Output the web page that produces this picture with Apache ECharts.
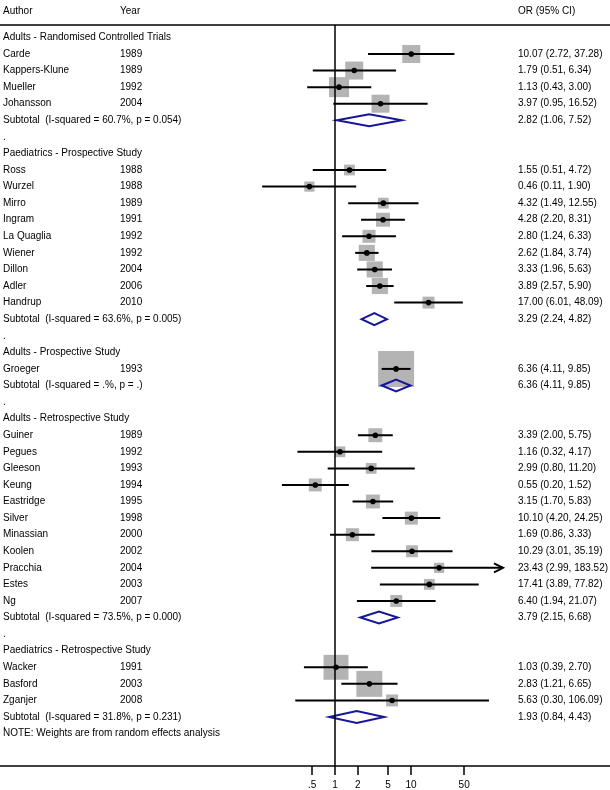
<!DOCTYPE html>
<html>
<head>
<meta charset="utf-8">
<script src="https://cdn.jsdelivr.net/npm/echarts@6/dist/echarts.min.js"></script>
<style>
html,body{margin:0;padding:0;background:#fff;}
#chart{width:610px;height:790px;}
</style>
</head>
<body>
<div id="chart"></div>
<script>
/* 
	forest plot data, one entry per row of the plot
 */
var rowLabels = [
	'Adults - Randomised Controlled Trials',
	'Carde','Kappers-Klune','Mueller','Johansson',
	'Subtotal  (I-squared = 60.7%, p = 0.054)',
	'.',
	'Paediatrics - Prospective Study',
	'Ross','Wurzel','Mirro','Ingram','La Quaglia','Wiener','Dillon','Adler','Handrup',
	'Subtotal  (I-squared = 63.6%, p = 0.005)',
	'.',
	'Adults - Prospective Study',
	'Groeger',
	'Subtotal  (I-squared = .%, p = .)',
	'.',
	'Adults - Retrospective Study',
	'Guiner','Pegues','Gleeson','Keung','Eastridge','Silver','Minassian','Koolen','Pracchia','Estes','Ng',
	'Subtotal  (I-squared = 73.5%, p = 0.000)',
	'.',
	'Paediatrics - Retrospective Study',
	'Wacker','Basford','Zganjer',
	'Subtotal  (I-squared = 31.8%, p = 0.231)',
	'NOTE: Weights are from random effects analysis'
];
// h = group header, s = study, t = subtotal, x = plain text, n = note
var rowKind = [
	'h','s','s','s','s','t','x',
	'h','s','s','s','s','s','s','s','s','s','t','x',
	'h','s','t','x',
	'h','s','s','s','s','s','s','s','s','s','s','s','t','x',
	'h','s','s','s','t',
	'n'
];
var years = [
	'','1989','1989','1992','2004','','',
	'','1988','1988','1989','1991','1992','1992','2004','2006','2010','','',
	'','1993','','',
	'','1989','1992','1993','1994','1995','1998','2000','2002','2004','2003','2007','','',
	'','1991','2003','2008','',
	''
];
var orValues = [
	null,10.07,1.79,1.13,3.97,2.82,null,
	null,1.55,0.46,4.32,4.28,2.80,2.62,3.33,3.89,17.00,3.29,null,
	null,6.36,6.36,null,
	null,3.39,1.16,2.99,0.55,3.15,10.10,1.69,10.29,23.43,17.41,6.40,3.79,null,
	null,1.03,2.83,5.63,1.93,
	null
];
var ciLow = [
	null,2.72,0.51,0.43,0.95,1.06,null,
	null,0.51,0.11,1.49,2.20,1.24,1.84,1.96,2.57,6.01,2.24,null,
	null,4.11,4.11,null,
	null,2.00,0.32,0.80,0.20,1.70,4.20,0.86,3.01,2.99,3.89,1.94,2.15,null,
	null,0.39,1.21,0.30,0.84,
	null
];
var ciHigh = [
	null,37.28,6.34,3.00,16.52,7.52,null,
	null,4.72,1.90,12.55,8.31,6.33,3.74,5.63,5.90,48.09,4.82,null,
	null,9.85,9.85,null,
	null,5.75,4.17,11.20,1.52,5.83,24.25,3.33,35.19,183.52,77.82,21.07,6.68,null,
	null,2.70,6.65,106.09,4.43,
	null
];
// weights (%)
var weights = [
	null,25,25,31,25,null,null,
	null,9,8,9,15,13,20,20,20,11,null,null,
	null,100,null,null,
	null,15,9,9,13,15,13,13,11,8,9,11,null,null,
	null,48,52,11,null,
	null
];

// x axis ticks
var xTicks = [0.5, 1, 2, 5, 10, 50];
var xTickLabels = ['.5', '1', '2', '5', '10', '50'];
var refValue = 1;

// 坐标范围 (log10 空间)
var xMin = -4.408, xMax = 3.618;
var clipLog = 2.21;
var boxScale = 3.6;
var FONT = '10px "Liberation Sans", Arial, sans-serif';

/* 构建系列数据 */
var studyData = [], diamondData = [], textData = [];
for (var i = 0; i < rowLabels.length; i++) {
	textData.push([0, i]);
	if (rowKind[i] == 's') {
		studyData.push([i, orValues[i], ciLow[i], ciHigh[i], weights[i]]);
	} else if (rowKind[i] == 't') {
		diamondData.push([i, orValues[i], ciLow[i], ciHigh[i]]);
	}
}

function lg(v) { return Math.log10(v); }

function renderStudy(params, api) {
	var row = api.value(0);
	var pc = api.coord([lg(api.value(1)), row]);
	var pl = api.coord([lg(api.value(2)), row]);
	var hiLog = lg(api.value(3));
	var ph = api.coord([Math.min(hiLog, clipLog), row]);
	var side = boxScale * Math.sqrt(api.value(4));
	var children = [
		{type: 'rect', shape: {x: pc[0] - side / 2, y: pc[1] - side / 2, width: side, height: side}, style: {fill: '#b4b4b4'}},
		{type: 'line', shape: {x1: pl[0], y1: pl[1], x2: ph[0], y2: ph[1]}, style: {stroke: '#000', lineWidth: 2}},
		{type: 'circle', shape: {cx: pc[0], cy: pc[1], r: 2.8}, style: {fill: '#000'}}
	];
	// 超出范围则画箭头
	if (hiLog > clipLog) {
		children.push({type: 'polyline', shape: {points: [[ph[0] - 9, ph[1] - 4.5], [ph[0], ph[1]], [ph[0] - 9, ph[1] + 4.5]]},
			style: {stroke: '#000', fill: null, lineWidth: 2}});
	}
	return {type: 'group', children: children};
}

function renderDiamond(params, api) {
	var row = api.value(0);
	var pc = api.coord([lg(api.value(1)), row]);
	var pl = api.coord([lg(api.value(2)), row]);
	var ph = api.coord([lg(api.value(3)), row]);
	return {
		type: 'polygon',
		shape: {points: [[pl[0], pc[1]], [pc[0], pc[1] - 6], [ph[0], pc[1]], [pc[0], pc[1] + 6]]},
		style: {stroke: '#16169a', fill: null, lineWidth: 2}
	};
}

function renderText(params, api) {
	var i = api.value(1);
	var y = api.coord([0, i])[1];
	var children = [
		{type: 'text', x: 3, y: y, style: {text: rowLabels[i], font: FONT, fill: '#000', verticalAlign: 'middle'}}
	];
	if (rowKind[i] == 'n') {
		// 残留的分隔点
		children.push({type: 'text', x: 3, y: y - 8, style: {text: '.', font: FONT, fill: '#000', verticalAlign: 'middle'}});
	}
	if (years[i]) {
		children.push({type: 'text', x: 120, y: y, style: {text: years[i], font: FONT, fill: '#000', verticalAlign: 'middle'}});
	}
	if (orValues[i] != null) {
		var s = orValues[i].toFixed(2) + ' (' + ciLow[i].toFixed(2) + ', ' + ciHigh[i].toFixed(2) + ')';
		children.push({type: 'text', x: 518, y: y, style: {text: s, font: FONT, fill: '#000', verticalAlign: 'middle'}});
	}
	return {type: 'group', children: children};
}

var myChart = echarts.init(document.getElementById('chart'));
var option = {
	animation: false,
	grid: {left: 0, right: 0, top: 25, bottom: 24},
	graphic: [
		{type: 'text', left: 3, top: 6, style: {text: 'Author', font: FONT, fill: '#000'}},
		{type: 'text', left: 120, top: 6, style: {text: 'Year', font: FONT, fill: '#000'}},
		{type: 'text', left: 518, top: 6, style: {text: 'OR (95% CI)', font: FONT, fill: '#000'}}
	],
	xAxis: [{
		type: 'value', min: xMin, max: xMax, position: 'bottom',
		axisLine: {show: true, onZero: false, lineStyle: {color: '#000', width: 1.5}},
		axisTick: {show: true, length: 9, lineStyle: {color: '#000', width: 1.5}, customValues: xTicks.map(lg)},
		axisLabel: {
			show: true, margin: 14, color: '#000', fontSize: 10, fontFamily: '"Liberation Sans", Arial, sans-serif',
			customValues: xTicks.map(lg),
			formatter: function (v) {
				for (var k = 0; k < xTicks.length; k++) {
					if (Math.abs(lg(xTicks[k]) - v) < 1e-6) return xTickLabels[k];
				}
				return '';
			}
		},
		splitLine: {show: false}
	}, {
		type: 'value', position: 'top', min: xMin, max: xMax,
		axisLine: {show: true, onZero: false, lineStyle: {color: '#000', width: 1.5}},
		axisTick: {show: false}, axisLabel: {show: false}, splitLine: {show: false}
	}],
	yAxis: {
		type: 'value', inverse: true, min: -0.748, max: 43.955,
		show: false
	},
	series: [{
		type: 'custom', name: 'studies', clip: false, silent: true,
		renderItem: renderStudy, data: studyData, z: 3,
		markLine: {
			silent: true, symbol: 'none', label: {show: false},
			lineStyle: {color: '#000', width: 1.5, type: 'solid'},
			data: [{xAxis: lg(refValue)}]
		}
	}, {
		type: 'custom', name: 'subtotal', clip: false, silent: true,
		renderItem: renderDiamond, data: diamondData, z: 4
	}, {
		type: 'custom', name: 'text', clip: false, silent: true,
		renderItem: renderText, data: textData, z: 5
	}]
};
myChart.setOption(option);
</script>
</body>
</html>
